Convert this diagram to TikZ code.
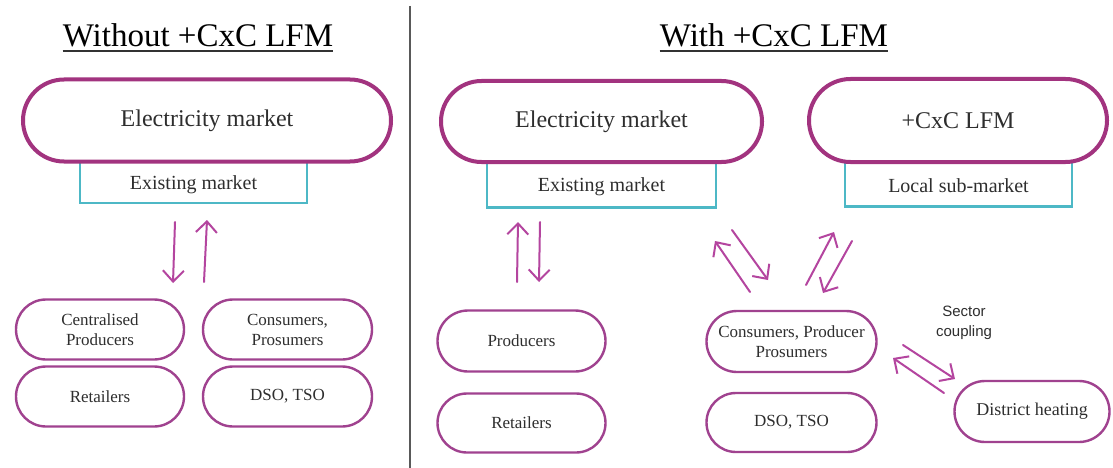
\documentclass[tikz,border=0pt]{standalone}
\usepackage{fontspec}
\setmainfont{Liberation Serif}
\newfontfamily\sectorfont{Liberation Sans}
\usetikzlibrary{arrows.meta,shapes.misc}
\definecolor{stadc}{HTML}{A2337F}
\definecolor{boxc}{HTML}{A0428F}
\definecolor{arrc}{HTML}{B4459F}
\definecolor{cyanc}{HTML}{4DB8C6}
\definecolor{txtc}{HTML}{2E2E2E}
\begin{document}
\begin{tikzpicture}[x=1pt,y=-1pt,
  bigstad/.style={draw=stadc,line width=4pt,rounded rectangle,fill=white,inner sep=0pt,text=txtc,font=\fontsize{24}{28}\selectfont},
  smallstad/.style={draw=boxc,line width=2.4pt,rounded rectangle,fill=white,inner sep=0pt,text=txtc,align=center,font=\fontsize{17}{20}\selectfont},
  cyanrect/.style={draw=cyanc,line width=2.6pt,rectangle,fill=white,inner sep=0pt,text=txtc,font=\fontsize{20}{24}\selectfont},
  titletext/.style={text=black,font=\fontsize{33}{38}\selectfont,inner sep=0pt,anchor=base},
  arr/.style={draw=arrc,line width=2pt,line cap=round,-{Straight Barb[length=11pt,width=21pt,line width=2pt]}},
]
\useasboundingbox (0,0) rectangle (1113,468);
\fill[white] (0,0) rectangle (1113,468);

% divider
\draw[line width=1.6pt,color=black!65] (410,6) -- (410,468);

% titles
\node[titletext] (t1) at (198,47) {Without +CxC LFM};
\draw[line width=1.6pt,black!80] ([yshift=-4pt]t1.base west) -- ([yshift=-4pt]t1.base east);
\node[titletext] (t2) at (774,47) {With +CxC LFM};
\draw[line width=1.6pt,black!80] ([yshift=-4pt]t2.base west) -- ([yshift=-4pt]t2.base east);

% ---------- left part ----------
\node[cyanrect,minimum width=227pt,minimum height=44pt] (exL) at (193.5,181) {};
\node[bigstad,minimum width=368pt,minimum height=82pt] (emL) at (207,120.5) {Electricity market};
\node[text=txtc,font=\fontsize{20}{24}\selectfont] (exLt) at (193.5,185) {Existing market};

\node[smallstad,minimum width=168pt,minimum height=60pt] (cp) at (100,329.5) {Centralised\\Producers};
\node[smallstad,minimum width=169pt,minimum height=60pt] (cons) at (287.5,329.5) {Consumers,\\Prosumers};
\node[smallstad,minimum width=168pt,minimum height=60pt] (retL) at (100,396.5) {Retailers};
\node[smallstad,minimum width=169pt,minimum height=60pt] (dsoL) at (287.5,396.5) {DSO, TSO};

\coordinate (a1s) at (175,222); \coordinate (a1e) at (173,283);
\coordinate (a2s) at (204,282); \coordinate (a2e) at (207,220);
\draw[arr] (a1s) -- (a1e);
\draw[arr] (a2s) -- (a2e);

% ---------- right part ----------
\node[cyanrect,minimum width=229pt,minimum height=47pt] (exR) at (601.5,184) {};
\node[bigstad,minimum width=321pt,minimum height=81pt] (emR) at (601.5,121.5) {Electricity market};
\node[text=txtc,font=\fontsize{20}{24}\selectfont] (exRt) at (601.5,187) {Existing market};

\node[cyanrect,minimum width=227pt,minimum height=46pt] (loc) at (958.5,183.5) {};
\node[bigstad,minimum width=298pt,minimum height=83pt] (lfm) at (958,120.5) {+CxC LFM};
\node[text=txtc,font=\fontsize{20}{24}\selectfont] (loct) at (958.5,186) {Local sub-market};

\node[smallstad,minimum width=168pt,minimum height=61pt] (prod) at (521.5,341) {Producers};
\node[smallstad,minimum width=168pt,minimum height=59pt] (retR) at (521.5,423) {Retailers};
\node[smallstad,minimum width=170pt,minimum height=61pt] (cpp) at (791.5,341.5) {Consumers, Producer\\Prosumers};
\node[smallstad,minimum width=170pt,minimum height=59pt] (dsoR) at (791.5,422.5) {DSO, TSO};
\node[smallstad,minimum width=155pt,minimum height=61pt,font=\fontsize{18}{22}\selectfont] (dh) at (1032,411.5) {District heating};

\node[text=txtc,font=\sectorfont\fontsize{15}{20}\selectfont,align=center,inner sep=0pt] (sc) at (964,323) {Sector\\coupling};

\coordinate (b1s) at (517,282); \coordinate (b1e) at (518,222);
\coordinate (b2s) at (540,222); \coordinate (b2e) at (539,282);
\draw[arr] (b1s) -- (b1e);
\draw[arr] (b2s) -- (b2e);

\coordinate (c1s) at (750,292); \coordinate (c1e) at (715,241);
\coordinate (c2s) at (732,230); \coordinate (c2e) at (768,280);
\coordinate (c3s) at (806,285); \coordinate (c3e) at (834,232);
\coordinate (c4s) at (852,241); \coordinate (c4e) at (823,293);
\draw[arr] (c1s) -- (c1e);
\draw[arr] (c2s) -- (c2e);
\draw[arr] (c3s) -- (c3e);
\draw[arr] (c4s) -- (c4e);

\coordinate (d1s) at (903,345); \coordinate (d1e) at (955,379);
\coordinate (d2s) at (944,393); \coordinate (d2e) at (893,358);
\draw[arr] (d1s) -- (d1e);
\draw[arr] (d2s) -- (d2e);
\end{tikzpicture}
\end{document}
